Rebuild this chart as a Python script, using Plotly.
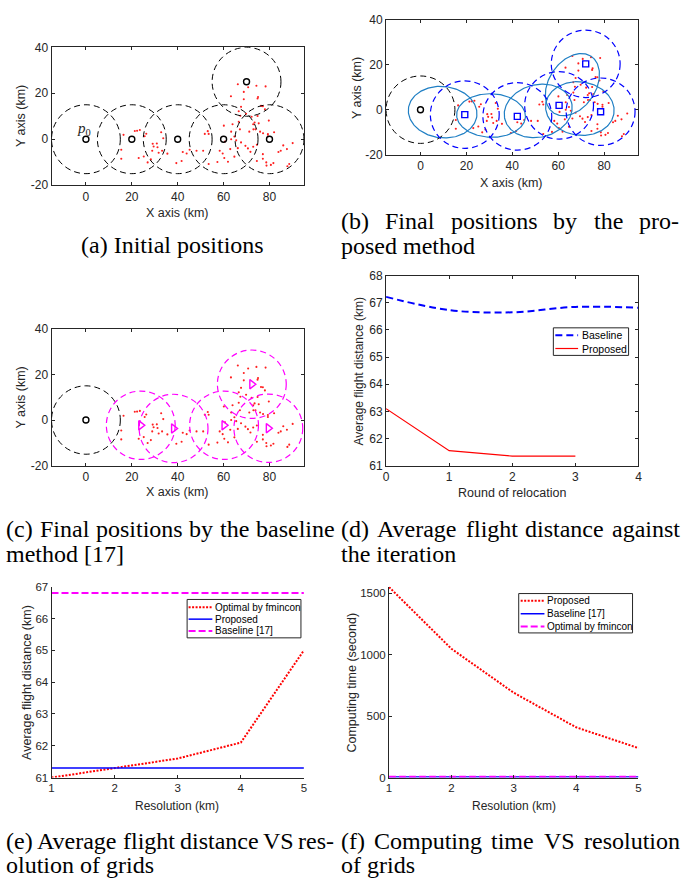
import numpy as np
import plotly.graph_objects as go

W, H = 689, 884
AX = "#262626"
SANS = "Liberation Sans, Arial, sans-serif"
SERIF = "Liberation Serif, Times New Roman, serif"

# ------------------------------------------------------------------ data
user_x = [15.4, 15.4, 16.4, 21.3, 22.3, 23.5, 26.3, 25.6, 23.0, 25.2, 26.9, 28.3, 29.1, 30.9,
          29.5, 31.2, 28.9, 31.7, 33.2, 32.8, 33.7, 35.5, 39.4, 41.7, 42.2, 43.9, 45.2,
          48.2, 51.1, 51.8, 53.1, 53.5, 53.5, 58.3, 59.6, 57.3, 61.9, 60.3, 62.9, 64.7, 66.2,
          60.1, 63.3, 67.6, 69.5, 70.6, 71.7, 72.9, 74.5, 64.7, 67.1, 63.3, 60.6, 65.5,
          66.2, 70.7, 74.3, 78.3, 68.8, 63.2, 75.0, 74.8, 68.8, 77.1, 76.3, 78.0, 67.6, 66.6,
          69.8, 67.3, 72.2, 74.8, 63.9, 66.6, 73.5, 72.9, 75.3, 79.7, 71.2, 73.0, 73.9, 75.9,
          77.2, 79.3, 82.0,
          77.1, 77.1, 78.6, 80.6, 78.7, 81.7, 83.9, 84.9, 86.0, 87.6, 90.1, 87.8, 88.6, 79.3, 74.5]
user_y = [-4.6, -8.5, 1.9, 3.6, 3.7, 4.0, 2.4, 1.3, -8.2, -7.5, -10.1, -8.8, -2.0, -1.9,
          -3.2, -3.5, -5.0, -5.9, -5.0, 3.0, 0.4, -6.3, -10.4, -9.5, -5.6, -6.2, -4.6,
          -5.0, -5.0, 2.3, 3.5, 2.3, -10.8, -5.0, -6.2, -9.9, -9.8, -8.2, -4.3, -7.6, -3.9,
          5.9, 0.0, -1.4, -2.9, -4.0, -5.5, -3.3, -2.4, 1.2, 4.3, 3.3, -1.0, -0.5,
          23.9, 22.6, 23.3, 23.0, 20.6, 18.7, 18.4, 17.7, 17.4, 14.4, 14.5, 13.0, 14.1, 12.2,
          11.1, 10.2, 9.8, 10.1, 6.5, 7.6, 7.3, 6.5, 6.9, 8.1, 3.3, 4.3, 4.3, 3.3,
          2.6, 2.2, 3.0,
          -6.5, -8.5, -10.1, -11.2, -11.5, -10.4, -5.6, -5.0, -2.7, -4.3, -1.7, -11.8, -10.8, 1.3, -9.5]

init_x = [0, 20, 40, 60, 80, 70]
init_y = [0, 0, 0, 0, 0, 25]
start_x = [0]
start_y = [0]
coverage_radius = 15
flight_range = 30

prop_x = [19.3, 42.2, 60.4, 72.0, 78.5]
prop_y = [-2.2, -3.0, 1.9, 20.4, -0.9]
# links (ellipses) between start point (index 0) and proposed positions (1..5)
ellipse_links = [(0, 1), (1, 2), (2, 3), (3, 4), (3, 5)]

base_x = [23.9, 38.2, 60.2, 72.3, 79.5]
base_y = [-2.3, -3.7, -2.3, 15.7, -3.6]

map_xticks = [0, 20, 40, 60, 80]
map_yticks = [-20, 0, 20, 40]
map_yticktext = ["-20", "0", "20", "40"]

rounds_base = [0, 1, 2, 3, 4]
dist_baseline = [67.22, 66.73, 66.65, 66.85, 66.82]
rounds_prop = [0, 1, 2, 3]
dist_proposed = [63.1, 61.55, 61.35, 61.35]
d_names = ["Baseline", "Proposed"]

resolution = [1, 2, 3, 4, 5]
e_fmincon = [61.0, 61.3, 61.6, 62.1, 65.0]
e_proposed = [61.3, 61.3, 61.3, 61.3, 61.3]
e_baseline = [66.8, 66.8, 66.8, 66.8, 66.8]
e_names = ["Optimal by fmincon", "Proposed", "Baseline [17]"]

f_proposed = [1550, 1048, 690, 409, 240]
f_baseline = [4, 4, 4, 4, 4]
f_fmincon = [6, 6, 6, 6, 6]
f_names = ["Proposed", "Baseline [17]", "Optimal by fmincon"]

# line styles
RED_DOT = dict(color="#FF0000", width=2, dash="2px,1.5px")
BLUE_SOLID = dict(color="#0000FF", width=1.5)
MAG_DASH = dict(color="#FF00FF", width=2, dash="7px,3px")
BLUE_DASH = dict(color="#0000FF", width=2, dash="7px,4px")
RED_SOLID = dict(color="#FF0000", width=1.2)


# ------------------------------------------------------------------ layout helpers
def dx(l, r):
    return [l / W, r / W]


def dy(t, b):
    return [1 - b / H, 1 - t / H]


def axis(domain, rng, anchor, box=True, tickvals=None, ticktext=None, fs=12):
    d = dict(domain=domain, range=rng, anchor=anchor, showline=True, linecolor=AX,
             linewidth=1, mirror="ticks" if box else False, ticks="inside", ticklen=3,
             tickwidth=1, tickcolor=AX, showgrid=False, zeroline=False,
             tickfont=dict(family=SANS, size=fs, color=AX))
    if tickvals is not None:
        d["tickvals"] = tickvals
    if ticktext is not None:
        d["ticktext"] = ticktext
    return d


fig = go.Figure()
shapes = []
annotations = []


def circle(cx, cy, r, xref, yref, color, width=1, dash="6px,4px"):
    shapes.append(dict(type="circle", xref=xref, yref=yref, x0=cx - r, x1=cx + r,
                       y0=cy - r, y1=cy + r, line=dict(color=color, width=width, dash=dash)))


def dots(xa, ya):
    fig.add_trace(go.Scatter(x=user_x, y=user_y, mode="markers", xaxis=xa, yaxis=ya,
                             marker=dict(color="#FF2020", size=2.1), showlegend=False,
                             hoverinfo="skip"))


# ------------------------------------------------------------------ (a)
for cx, cy in zip(init_x, init_y):
    circle(cx, cy, coverage_radius, "x", "y", "black")
dots("x", "y")
fig.add_trace(go.Scatter(x=init_x, y=init_y, mode="markers", xaxis="x", yaxis="y",
                         marker=dict(symbol="circle-open", size=6, color="black",
                                     line=dict(width=1.4)), showlegend=False))
annotations.append(dict(x=start_x[0] - 0.8, y=start_y[0] + 4.3, xref="x", yref="y",
                        text="<i>p</i><sub>0</sub>", showarrow=False,
                        font=dict(family=SERIF, size=15, color=AX)))

# ------------------------------------------------------------------ (b)
circle(start_x[0], start_y[0], coverage_radius, "x2", "y2", "black")
for cx, cy in zip(prop_x, prop_y):
    circle(cx, cy, coverage_radius, "x2", "y2", "#0000FF", width=1.2)
dots("x2", "y2")
all_x = start_x + prop_x
all_y = start_y + prop_y
t = np.linspace(0, 2 * np.pi, 181)
for i, j in ellipse_links:
    f1 = np.array([all_x[i], all_y[i]])
    f2 = np.array([all_x[j], all_y[j]])
    c = (f1 + f2) / 2
    half = np.linalg.norm(f2 - f1) / 2
    a = flight_range / 2
    b = np.sqrt(a * a - half * half)
    ang = np.arctan2(f2[1] - f1[1], f2[0] - f1[0])
    ex = c[0] + a * np.cos(t) * np.cos(ang) - b * np.sin(t) * np.sin(ang)
    ey = c[1] + a * np.cos(t) * np.sin(ang) + b * np.sin(t) * np.cos(ang)
    fig.add_trace(go.Scatter(x=ex, y=ey, mode="lines", xaxis="x2", yaxis="y2",
                             line=dict(color="#1f7fc4", width=1.2), showlegend=False,
                             hoverinfo="skip"))
fig.add_trace(go.Scatter(x=start_x, y=start_y, mode="markers", xaxis="x2", yaxis="y2",
                         marker=dict(symbol="circle-open", size=6, color="black",
                                     line=dict(width=1.4)), showlegend=False))
fig.add_trace(go.Scatter(x=prop_x, y=prop_y, mode="markers", xaxis="x2", yaxis="y2",
                         marker=dict(symbol="square-open", size=6, color="#0000FF",
                                     line=dict(width=1.4)), showlegend=False))

# ------------------------------------------------------------------ (c)
circle(start_x[0], start_y[0], coverage_radius, "x3", "y3", "black")
for cx, cy in zip(base_x, base_y):
    circle(cx, cy, coverage_radius, "x3", "y3", "#FF00FF", width=1.2)
dots("x3", "y3")
fig.add_trace(go.Scatter(x=start_x, y=start_y, mode="markers", xaxis="x3", yaxis="y3",
                         marker=dict(symbol="circle-open", size=6, color="black",
                                     line=dict(width=1.4)), showlegend=False))
fig.add_trace(go.Scatter(x=base_x, y=base_y, mode="markers", xaxis="x3", yaxis="y3",
                         marker=dict(symbol="triangle-right-open", size=8, color="#FF00FF",
                                     line=dict(width=1.4)), showlegend=False))

# ------------------------------------------------------------------ (d)
fig.add_trace(go.Scatter(x=rounds_base, y=dist_baseline, mode="lines", name=d_names[0],
                         xaxis="x4", yaxis="y4", showlegend=False,
                         line=dict(BLUE_DASH, shape="spline")))
fig.add_trace(go.Scatter(x=rounds_prop, y=dist_proposed, mode="lines", name=d_names[1],
                         xaxis="x4", yaxis="y4", showlegend=False, line=RED_SOLID))

# ------------------------------------------------------------------ (e)
for yv, nm, st in zip([e_fmincon, e_proposed, e_baseline], e_names,
                      [RED_DOT, BLUE_SOLID, MAG_DASH]):
    fig.add_trace(go.Scatter(x=resolution, y=yv, mode="lines", name=nm, xaxis="x5",
                             yaxis="y5", showlegend=False, line=st))

# ------------------------------------------------------------------ (f)
for yv, nm, st in zip([f_proposed, f_baseline, f_fmincon], f_names,
                      [RED_DOT, BLUE_SOLID, MAG_DASH]):
    fig.add_trace(go.Scatter(x=resolution, y=yv, mode="lines", name=nm, xaxis="x6",
                             yaxis="y6", showlegend=False, line=st))


# ------------------------------------------------------------------ legends (MATLAB style boxes)
def legend_box(l, r, t, b, names, styles, rows, sample, text_x, fs=10):
    shapes.append(dict(type="rect", xref="paper", yref="paper", x0=l / W, x1=r / W,
                       y0=1 - b / H, y1=1 - t / H, fillcolor="white",
                       line=dict(color=AX, width=1), layer="above"))
    for nm, st, yy in zip(names, styles, rows):
        shapes.append(dict(type="line", xref="paper", yref="paper", x0=sample[0] / W,
                           x1=sample[1] / W, y0=1 - yy / H, y1=1 - yy / H,
                           line=st, layer="above"))
        annotations.append(dict(x=text_x / W, y=1 - yy / H, xref="paper", yref="paper",
                                text=nm, showarrow=False, xanchor="left", yanchor="middle",
                                borderpad=0, font=dict(family=SANS, size=fs, color="black")))


legend_box(556, 632, 326, 354, d_names, [BLUE_DASH, RED_SOLID], [333.5, 347],
           (558, 581), 583.5, fs=10.5)
legend_box(186, 301, 602, 641, e_names, [RED_DOT, BLUE_SOLID, MAG_DASH],
           [610, 622, 634], (187.5, 211.5), 213, fs=10)
legend_box(521, 636, 596, 636, f_names, [RED_DOT, BLUE_SOLID, MAG_DASH],
           [603.3, 616.5, 629.5], (523, 547), 548.5, fs=10)


# ------------------------------------------------------------------ text
def label(text, x, y, size=12.5, angle=0):
    annotations.append(dict(x=x / W, y=1 - y / H, xref="paper", yref="paper", text=text,
                            showarrow=False, textangle=angle, xanchor="center",
                            yanchor="middle", font=dict(family=SANS, size=size, color=AX)))


label("X axis (km)", 176, 209)
label("Y axis (km)", 18, 111, angle=-90)
label("X axis (km)", 514, 179)
label("Y axis (km)", 357, 82, angle=-90)
label("X axis (km)", 176, 493)
label("Y axis (km)", 18, 397, angle=-90)
label("Round of relocation", 514, 494)
label("Average flight distance (km)", 360, 370, size=12, angle=-90)
label("Resolution (km)", 176, 812, size=12)
label("Average flight distance (km)", 24, 686, size=12.5, angle=-90)
label("Resolution (km)", 516, 812, size=12)
label("Computing time (second)", 353, 686, size=12.5, angle=-90)

TIMES = {" ": 250, "(": 333, ")": 333, "-": 333, "[": 333, "]": 333, "1": 500, "7": 500,
         "A": 722, "C": 667, "F": 556, "I": 333, "S": 556, "V": 722,
         "a": 444, "b": 500, "c": 444, "d": 500, "e": 444, "f": 333, "g": 500, "h": 500,
         "i": 278, "l": 278, "m": 778, "n": 500, "o": 500, "p": 500, "r": 333, "s": 389,
         "t": 278, "u": 500, "v": 500, "y": 500}
CAP = 24


def tw(s):
    return sum(TIMES.get(ch, 500) for ch in s) * CAP / 1000


def cap_text(text, x, y, anchor="left"):
    annotations.append(dict(x=x / W, y=1 - y / H, xref="paper", yref="paper", text=text,
                            showarrow=False, xanchor=anchor, yanchor="middle", borderpad=0,
                            font=dict(family=SERIF, size=CAP, color="black")))


def justified(text, left, right, y):
    words = text.split(" ")
    total = sum(tw(w) for w in words)
    gap = (right - left - total) / (len(words) - 1)
    x = left
    for w in words:
        cap_text(w, x, y)
        x += tw(w) + gap


LC = (2, 333)
RC = (340, 682)
cap_text("(a) Initial positions", 171, 242, anchor="center")
justified("(b) Final positions by the pro-", RC[0], RC[1], 217)
cap_text("posed method", RC[0], 243)
justified("(c) Final positions by the baseline", LC[0], LC[1], 530)
cap_text("method [17]", LC[0], 556)
justified("(d) Average flight distance against", RC[0], RC[1], 530)
cap_text("the iteration", RC[0], 556)
justified("(e) Average flight distance VS res-", LC[0], LC[1], 847)
cap_text("olution of grids", LC[0], 872)
justified("(f) Computing time VS resolution", RC[0], RC[1], 847)
cap_text("of grids", RC[0], 872)

fig.update_layout(
    width=W, height=H, autosize=False, margin=dict(l=0, r=0, t=0, b=0),
    paper_bgcolor="white", plot_bgcolor="white", showlegend=False,
    xaxis=axis(dx(49, 304), [-15, 95], "y", tickvals=map_xticks),
    yaxis=axis(dy(41, 181), [-20, 40], "x", tickvals=map_yticks, ticktext=map_yticktext),
    xaxis2=axis(dx(387, 642), [-15, 95], "y2", tickvals=map_xticks),
    yaxis2=axis(dy(13, 150), [-20, 40], "x2", tickvals=map_yticks, ticktext=map_yticktext),
    xaxis3=axis(dx(49, 304), [-15, 95], "y3", tickvals=map_xticks),
    yaxis3=axis(dy(327, 466), [-20, 40], "x3", tickvals=map_yticks, ticktext=map_yticktext),
    xaxis4=axis(dx(387, 642), [0, 4], "y4", tickvals=rounds_base),
    yaxis4=axis(dy(273, 466), [61, 68], "x4", tickvals=[61, 62, 63, 64, 65, 66, 67, 68]),
    xaxis5=axis(dx(49, 304), [1, 5], "y5", box=False, tickvals=resolution, fs=11.5),
    yaxis5=axis(dy(589, 783), [61, 67], "x5", box=False,
                tickvals=[61, 62, 63, 64, 65, 66, 67], fs=11.5),
    xaxis6=axis(dx(390, 642), [1, 5], "y6", box=False, tickvals=resolution, fs=11.5),
    yaxis6=axis(dy(589, 783), [0, 1553], "x6", box=False,
                tickvals=[0, 500, 1000, 1500], fs=11.5),
    shapes=shapes,
    annotations=annotations,
)

fig.write_html("out.html",
               config={"displayModeBar": False},
               post_script="document.body.style.margin='0';"
                           "document.body.style.overflow='hidden';")
